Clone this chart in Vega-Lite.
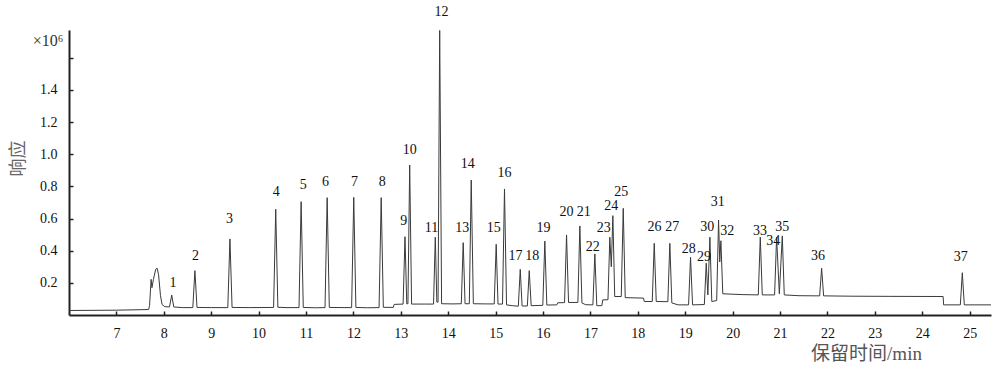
{
  "$schema": "https://vega.github.io/schema/vega-lite/v6.json",
  "width": 922,
  "height": 285,
  "autosize": "none",
  "padding": {"left": 69, "top": 30, "right": 9, "bottom": 54},
  "background": "white",
  "config": {"view": {"stroke": null}, "font": "Liberation Serif"},
  "datasets": {
    "trace": [
      {"t": 6.00, "r": 0.028}, {"t": 7.00, "r": 0.030}, {"t": 7.68, "r": 0.034},
      {"t": 7.70, "r": 0.06}, {"t": 7.732, "r": 0.222}, {"t": 7.75, "r": 0.17}, {"t": 7.78, "r": 0.22}, {"t": 7.83, "r": 0.285}, {"t": 7.859, "r": 0.291}, {"t": 7.89, "r": 0.25}, {"t": 7.93, "r": 0.12}, {"t": 7.964, "r": 0.065}, {"t": 8.02, "r": 0.052}, {"t": 8.12, "r": 0.050},
      {"t": 8.167, "r": 0.124}, {"t": 8.21, "r": 0.05}, {"t": 8.40, "r": 0.046}, {"t": 8.612, "r": 0.046},
      {"t": 8.656, "r": 0.276}, {"t": 8.70, "r": 0.047}, {"t": 9.0, "r": 0.046}, {"t": 9.35, "r": 0.046},
      {"t": 9.395, "r": 0.473}, {"t": 9.44, "r": 0.047}, {"t": 9.8, "r": 0.046}, {"t": 10.316, "r": 0.047},
      {"t": 10.361, "r": 0.658}, {"t": 10.406, "r": 0.048}, {"t": 10.6, "r": 0.046}, {"t": 10.852, "r": 0.046},
      {"t": 10.897, "r": 0.705}, {"t": 10.942, "r": 0.047}, {"t": 11.2, "r": 0.045}, {"t": 11.401, "r": 0.046},
      {"t": 11.446, "r": 0.730}, {"t": 11.491, "r": 0.047}, {"t": 11.8, "r": 0.046}, {"t": 11.962, "r": 0.046},
      {"t": 12.007, "r": 0.732}, {"t": 12.052, "r": 0.047}, {"t": 12.3, "r": 0.045}, {"t": 12.541, "r": 0.046},
      {"t": 12.586, "r": 0.730}, {"t": 12.631, "r": 0.048}, {"t": 12.84, "r": 0.047}, {"t": 12.86, "r": 0.066}, {"t": 13.048, "r": 0.068},
      {"t": 13.088, "r": 0.487}, {"t": 13.125, "r": 0.07}, {"t": 13.15, "r": 0.07},
      {"t": 13.187, "r": 0.933}, {"t": 13.227, "r": 0.068}, {"t": 13.5, "r": 0.068}, {"t": 13.69, "r": 0.068},
      {"t": 13.727, "r": 0.484}, {"t": 13.76, "r": 0.08}, {"t": 13.785, "r": 0.08},
      {"t": 13.820, "r": 1.77}, {"t": 13.86, "r": 0.07}, {"t": 14.1, "r": 0.069}, {"t": 14.276, "r": 0.07},
      {"t": 14.316, "r": 0.450}, {"t": 14.355, "r": 0.07}, {"t": 14.445, "r": 0.07},
      {"t": 14.485, "r": 0.840}, {"t": 14.53, "r": 0.07}, {"t": 14.8, "r": 0.069}, {"t": 14.97, "r": 0.069},
      {"t": 15.012, "r": 0.440}, {"t": 15.05, "r": 0.068}, {"t": 15.145, "r": 0.068},
      {"t": 15.187, "r": 0.784}, {"t": 15.23, "r": 0.063}, {"t": 15.35, "r": 0.058}, {"t": 15.479, "r": 0.055},
      {"t": 15.519, "r": 0.284}, {"t": 15.558, "r": 0.056}, {"t": 15.669, "r": 0.056},
      {"t": 15.709, "r": 0.276}, {"t": 15.75, "r": 0.058}, {"t": 15.995, "r": 0.06},
      {"t": 16.038, "r": 0.460}, {"t": 16.08, "r": 0.062}, {"t": 16.29, "r": 0.063}, {"t": 16.31, "r": 0.076}, {"t": 16.454, "r": 0.077},
      {"t": 16.496, "r": 0.498}, {"t": 16.538, "r": 0.078}, {"t": 16.735, "r": 0.078},
      {"t": 16.777, "r": 0.554}, {"t": 16.82, "r": 0.075}, {"t": 16.9, "r": 0.064}, {"t": 17.052, "r": 0.063},
      {"t": 17.093, "r": 0.380}, {"t": 17.134, "r": 0.058}, {"t": 17.24, "r": 0.058}, {"t": 17.26, "r": 0.094}, {"t": 17.37, "r": 0.095},
      {"t": 17.409, "r": 0.484}, {"t": 17.44, "r": 0.30},
      {"t": 17.473, "r": 0.618}, {"t": 17.512, "r": 0.115}, {"t": 17.65, "r": 0.115},
      {"t": 17.692, "r": 0.664}, {"t": 17.734, "r": 0.108}, {"t": 18.12, "r": 0.105}, {"t": 18.135, "r": 0.084}, {"t": 18.304, "r": 0.084},
      {"t": 18.346, "r": 0.446}, {"t": 18.388, "r": 0.084}, {"t": 18.633, "r": 0.083},
      {"t": 18.675, "r": 0.446}, {"t": 18.717, "r": 0.075}, {"t": 18.85, "r": 0.063}, {"t": 19.07, "r": 0.063},
      {"t": 19.112, "r": 0.359}, {"t": 19.154, "r": 0.063}, {"t": 19.403, "r": 0.065},
      {"t": 19.443, "r": 0.322}, {"t": 19.477, "r": 0.125},
      {"t": 19.520, "r": 0.484}, {"t": 19.56, "r": 0.084}, {"t": 19.663, "r": 0.09},
      {"t": 19.703, "r": 0.591}, {"t": 19.728, "r": 0.33},
      {"t": 19.752, "r": 0.462}, {"t": 19.792, "r": 0.132}, {"t": 20.2, "r": 0.127}, {"t": 20.541, "r": 0.125},
      {"t": 20.583, "r": 0.484}, {"t": 20.625, "r": 0.125}, {"t": 20.885, "r": 0.125},
      {"t": 20.927, "r": 0.484}, {"t": 20.985, "r": 0.132},
      {"t": 21.047, "r": 0.492}, {"t": 21.089, "r": 0.125}, {"t": 21.4, "r": 0.12}, {"t": 21.835, "r": 0.119},
      {"t": 21.877, "r": 0.291}, {"t": 21.919, "r": 0.119}, {"t": 22.5, "r": 0.117}, {"t": 23.3, "r": 0.116}, {"t": 24.44, "r": 0.115}, {"t": 24.45, "r": 0.063}, {"t": 24.803, "r": 0.063},
      {"t": 24.845, "r": 0.263}, {"t": 24.887, "r": 0.063}, {"t": 25.45, "r": 0.063}
    ],
    "labels": [
      {"label": "1", "t": 8.196, "r": 0.201}, {"label": "2", "t": 8.667, "r": 0.367}, {"label": "3", "t": 9.384, "r": 0.596},
      {"label": "4", "t": 10.370, "r": 0.767}, {"label": "5", "t": 10.940, "r": 0.809}, {"label": "6", "t": 11.410, "r": 0.828},
      {"label": "7", "t": 12.022, "r": 0.828}, {"label": "8", "t": 12.607, "r": 0.828}, {"label": "9", "t": 13.062, "r": 0.587},
      {"label": "10", "t": 13.189, "r": 1.029}, {"label": "11", "t": 13.647, "r": 0.543}, {"label": "12", "t": 13.858, "r": 1.887},
      {"label": "13", "t": 14.295, "r": 0.540}, {"label": "14", "t": 14.413, "r": 0.940}, {"label": "15", "t": 14.962, "r": 0.540},
      {"label": "16", "t": 15.187, "r": 0.882}, {"label": "17", "t": 15.420, "r": 0.367}, {"label": "18", "t": 15.772, "r": 0.367},
      {"label": "19", "t": 16.010, "r": 0.543}, {"label": "20", "t": 16.496, "r": 0.643}, {"label": "21", "t": 16.861, "r": 0.643},
      {"label": "22", "t": 17.051, "r": 0.425}, {"label": "23", "t": 17.283, "r": 0.540}, {"label": "24", "t": 17.439, "r": 0.678},
      {"label": "25", "t": 17.650, "r": 0.767}, {"label": "26", "t": 18.353, "r": 0.549}, {"label": "27", "t": 18.726, "r": 0.546},
      {"label": "28", "t": 19.076, "r": 0.411}, {"label": "29", "t": 19.393, "r": 0.359}, {"label": "30", "t": 19.465, "r": 0.546},
      {"label": "31", "t": 19.688, "r": 0.701}, {"label": "32", "t": 19.887, "r": 0.523}, {"label": "33", "t": 20.575, "r": 0.523},
      {"label": "34", "t": 20.857, "r": 0.462}, {"label": "35", "t": 21.047, "r": 0.549}, {"label": "36", "t": 21.798, "r": 0.369},
      {"label": "37", "t": 24.810, "r": 0.359}
    ],
    "unit": [
      {"label": "×10⁶", "t": 5.557, "r": 1.705}
    ]
  },
  "layer": [
    {
      "data": {"name": "trace"},
      "mark": {"type": "line", "color": "#3a3a3a", "strokeWidth": 1, "interpolate": "linear"},
      "encoding": {
        "x": {
          "field": "t", "type": "quantitative",
          "scale": {"domain": [6, 25.45], "nice": false, "zero": false},
          "axis": {
            "values": [7, 8, 9, 10, 11, 12, 13, 14, 15, 16, 17, 18, 19, 20, 21, 22, 23, 24, 25],
            "grid": false, "domainColor": "#222", "domainWidth": 2,
            "tickColor": "#222", "tickSize": -4, "tickWidth": 1.5,
            "labelFont": "Liberation Serif", "labelFontSize": 14, "labelColor": "#111", "labelPadding": 15,
            "title": "保留时间/min", "titleFont": "Liberation Serif, Noto Sans CJK SC", "titleFontSize": 19,
            "titleFontWeight": "normal", "titleColor": "#555", "titleX": 797, "titleY": 38,
            "titleAlign": "center", "titleBaseline": "middle"
          }
        },
        "y": {
          "field": "r", "type": "quantitative",
          "scale": {"domain": [0, 1.773], "nice": false},
          "axis": {
            "values": [0.2, 0.4, 0.6, 0.8, 1.0, 1.2, 1.4, 1.6],
            "labelExpr": "datum.value > 1.5 ? '' : format(datum.value, '.1f')",
            "grid": false, "domainColor": "#222", "domainWidth": 2,
            "tickColor": "#222", "tickSize": -4, "tickWidth": 1.5,
            "labelFont": "Liberation Serif", "labelFontSize": 14, "labelColor": "#111", "labelPadding": 16,
            "title": "响应", "titleFont": "Noto Sans CJK SC", "titleFontSize": 18,
            "titleFontWeight": "normal", "titleColor": "#666", "titleAngle": -90, "titleX": -51, "titleY": 128,
            "titleAlign": "center", "titleBaseline": "middle"
          }
        }
      }
    },
    {
      "data": {"name": "labels"},
      "mark": {"type": "text", "font": "Liberation Serif", "fontSize": 14, "color": "#111", "align": "center", "baseline": "middle"},
      "encoding": {
        "x": {"field": "t", "type": "quantitative"},
        "y": {"field": "r", "type": "quantitative"},
        "text": {"field": "label", "type": "nominal"}
      }
    },
    {
      "data": {"name": "unit"},
      "mark": {"type": "text", "font": "Liberation Serif", "fontSize": 16, "color": "#333", "align": "center", "baseline": "middle"},
      "encoding": {
        "x": {"field": "t", "type": "quantitative"},
        "y": {"field": "r", "type": "quantitative"},
        "text": {"field": "label", "type": "nominal"}
      }
    }
  ]
}
